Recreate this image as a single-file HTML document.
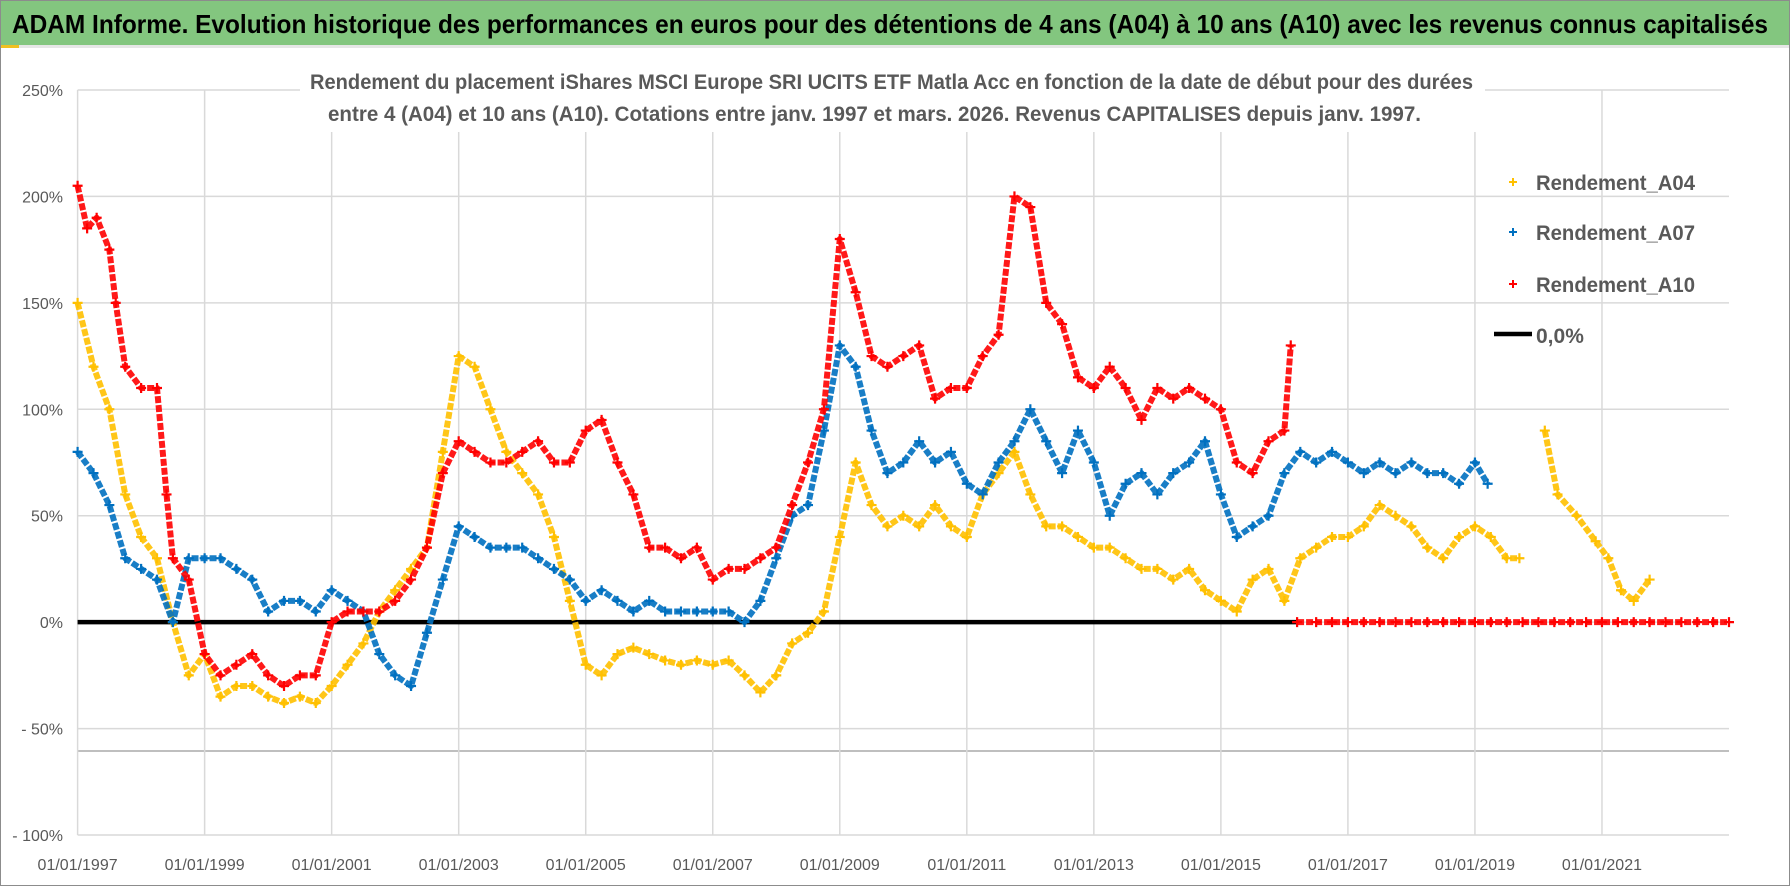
<!DOCTYPE html>
<html><head><meta charset="utf-8"><style>
html,body{margin:0;padding:0;background:#fff;}
svg{display:block;font-family:"Liberation Sans",sans-serif;}
</style></head><body>
<svg id="chart" width="1790" height="886" viewBox="0 0 1790 886">
<rect x="0.5" y="0.5" width="1789" height="885" fill="#fff" stroke="#8c8c8c"/>
<rect x="1" y="1" width="1788" height="44" fill="#83c67f"/>
<rect x="1" y="45" width="1788" height="3" fill="#e6e6e6"/>
<rect x="1" y="45" width="18" height="3" fill="#f0c020"/>
<text x="12" y="33" font-size="26" font-weight="bold" fill="#000" textLength="1756" lengthAdjust="spacingAndGlyphs">ADAM Informe. Evolution historique des performances en euros pour des détentions de 4 ans (A04) à 10 ans (A10) avec les revenus connus capitalisés</text>
<g id="grid"></g>
<g id="axes"></g>
<rect x="300" y="62" width="1185" height="70" fill="#fff"/>
<text x="310" y="89" font-size="21" font-weight="bold" fill="#595959" textLength="1163" lengthAdjust="spacingAndGlyphs">Rendement du placement iShares MSCI Europe SRI UCITS ETF Matla Acc en fonction de la date de début pour des durées</text>
<text x="328" y="121" font-size="21" font-weight="bold" fill="#595959" textLength="1093" lengthAdjust="spacingAndGlyphs">entre 4 (A04) et 10 ans (A10). Cotations entre janv. 1997 et mars. 2026. Revenus CAPITALISES depuis janv. 1997.</text>
<g id="series"></g>
<g id="legend"></g>
</svg>
<script>
const yTicks = [250, 200, 150, 100, 50, 0, -50, -100];
const yTickLabels = ["250%", "200%", "150%", "100%", "50%", "0%", "- 50%", "- 100%"];
const xTickYears = [1997, 1999, 2001, 2003, 2005, 2007, 2009, 2011, 2013, 2015, 2017, 2019, 2021];
const xTickLabels = ["01/01/1997","01/01/1999","01/01/2001","01/01/2003","01/01/2005","01/01/2007","01/01/2009","01/01/2011","01/01/2013","01/01/2015","01/01/2017","01/01/2019","01/01/2021"];

const a04Years = [1997,1997.25,1997.5,1997.75,1998,1998.25,1998.5,1998.75,1999,1999.25,1999.5,1999.75,2000,2000.25,2000.5,2000.75,2001,2001.25,2001.5,2001.75,2002,2002.25,2002.5,2002.75,2003,2003.25,2003.5,2003.75,2004,2004.25,2004.5,2004.75,2005,2005.25,2005.5,2005.75,2006,2006.25,2006.5,2006.75,2007,2007.25,2007.5,2007.75,2008,2008.25,2008.5,2008.75,2009,2009.25,2009.5,2009.75,2010,2010.25,2010.5,2010.75,2011,2011.25,2011.5,2011.75,2012,2012.25,2012.5,2012.75,2013,2013.25,2013.5,2013.75,2014,2014.25,2014.5,2014.75,2015,2015.25,2015.5,2015.75,2016,2016.25,2016.5,2016.75,2017,2017.25,2017.5,2017.75,2018,2018.25,2018.5,2018.75,2019,2019.25,2019.5,2019.7,2020.1,2020.3,2020.6,2020.9,2021.1,2021.3,2021.5,2021.75];
const a04Values = [150,120,100,60,40,30,0,-25,-15,-35,-30,-30,-35,-38,-35,-38,-30,-20,-10,5,15,25,35,80,125,120,100,80,70,60,40,10,-20,-25,-15,-12,-15,-18,-20,-18,-20,-18,-25,-33,-25,-10,-5,5,40,75,55,45,50,45,55,45,40,60,70,80,60,45,45,40,35,35,30,25,25,20,25,15,10,5,20,25,10,30,35,40,40,45,55,50,45,35,30,40,45,40,30,30,90,60,50,38,30,15,10,20];
const a04Gaps = [2019.7];

const a07Years = [1997,1997.25,1997.5,1997.75,1998,1998.25,1998.5,1998.75,1999,1999.25,1999.5,1999.75,2000,2000.25,2000.5,2000.75,2001,2001.25,2001.5,2001.75,2002,2002.25,2002.5,2002.75,2003,2003.25,2003.5,2003.75,2004,2004.25,2004.5,2004.75,2005,2005.25,2005.5,2005.75,2006,2006.25,2006.5,2006.75,2007,2007.25,2007.5,2007.75,2008,2008.25,2008.5,2008.75,2009,2009.25,2009.5,2009.75,2010,2010.25,2010.5,2010.75,2011,2011.25,2011.5,2011.75,2012,2012.25,2012.5,2012.75,2013,2013.25,2013.5,2013.75,2014,2014.25,2014.5,2014.75,2015,2015.25,2015.5,2015.75,2016,2016.25,2016.5,2016.75,2017,2017.25,2017.5,2017.75,2018,2018.25,2018.5,2018.75,2019,2019.2];
const a07Values = [80,70,55,30,25,20,0,30,30,30,25,20,5,10,10,5,15,10,5,-15,-25,-30,-5,20,45,40,35,35,35,30,25,20,10,15,10,5,10,5,5,5,5,5,0,10,30,50,55,90,130,120,90,70,75,85,75,80,65,60,75,85,100,85,70,90,75,50,65,70,60,70,75,85,60,40,45,50,70,80,75,80,75,70,75,70,75,70,70,65,75,65];
const a07Gaps = [];

const a10Years = [1997,1997.15,1997.3,1997.5,1997.6,1997.75,1998,1998.25,1998.4,1998.5,1998.75,1999,1999.25,1999.5,1999.75,2000,2000.25,2000.5,2000.75,2001,2001.25,2001.5,2001.75,2002,2002.25,2002.5,2002.75,2003,2003.25,2003.5,2003.75,2004,2004.25,2004.5,2004.75,2005,2005.25,2005.5,2005.75,2006,2006.25,2006.5,2006.75,2007,2007.25,2007.5,2007.75,2008,2008.25,2008.5,2008.75,2009,2009.25,2009.5,2009.75,2010,2010.25,2010.5,2010.75,2011,2011.25,2011.5,2011.75,2012,2012.25,2012.5,2012.75,2013,2013.25,2013.5,2013.75,2014,2014.25,2014.5,2014.75,2015,2015.25,2015.5,2015.75,2016,2016.1];
const a10Values = [205,185,190,175,150,120,110,110,60,30,20,-15,-25,-20,-15,-25,-30,-25,-25,0,5,5,5,10,20,35,70,85,80,75,75,80,85,75,75,90,95,75,60,35,35,30,35,20,25,25,30,35,55,75,100,180,155,125,120,125,130,105,110,110,125,135,200,195,150,140,115,110,120,110,95,110,105,110,105,100,75,70,85,90,130];
const a10Gaps = [];
const zeroYears = [2016.2,2016.5,2016.75,2017,2017.25,2017.5,2017.75,2018,2018.25,2018.5,2018.75,2019,2019.25,2019.5,2019.75,2020,2020.25,2020.5,2020.75,2021,2021.25,2021.5,2021.75,2022,2022.25,2022.5,2022.75,2023];
const zeroValues = [0,0,0,0,0,0,0,0,0,0,0,0,0,0,0,0,0,0,0,0,0,0,0,0,0,0,0,0];
const refLineStart = 1997, refLineEnd = 2016.2, refLineValue = 0;

const X0 = 77.6, X1 = 1729, Y0 = 90, Y1 = 835;
const xMin = 1997, xMax = 2023, yMin = -100, yMax = 250;
function xs(v){ return X0 + (v - xMin) / (xMax - xMin) * (X1 - X0); }
function ys(v){ return Y1 - (v - yMin) / (yMax - yMin) * (Y1 - Y0); }

const NS = "http://www.w3.org/2000/svg";
function mk(tag, attrs, parent){ const e = document.createElementNS(NS, tag); for (const k in attrs) e.setAttribute(k, attrs[k]); parent.appendChild(e); return e; }

const grid = document.getElementById('grid');
yTicks.forEach((t,i) => {
  const l = mk('line', {x1:X0, x2:X1, y1:ys(t), y2:ys(t), stroke:'#d9d9d9', 'stroke-width':1.5}, grid);
  
  
  const tx = mk('text', {x:63, y:ys(t)+6, 'text-anchor':'end', 'font-size':16, fill:'#595959'}, grid);
  tx.textContent = yTickLabels[i];
  
  
});
const bl = mk('line', {x1:X0, x2:X1, y1:751, y2:751, stroke:'#bfbfbf', 'stroke-width':2}, grid);


xTickYears.forEach((t,i) => {
  const l = mk('line', {x1:xs(t), x2:xs(t), y1:Y0, y2:Y1, stroke:'#d9d9d9', 'stroke-width':1.5}, grid);
  
  
  const tx = mk('text', {x:xs(t), y:870, 'text-anchor':'middle', 'font-size':16, fill:'#595959'}, grid);
  tx.textContent = xTickLabels[i];
  
  
});

const layer = document.getElementById('series');
function crossPath(x, y, s){ return `M${x-s},${y}H${x+s}M${x},${y-s}V${y+s}`; }
function drawSeries(years, values, gaps, color, name){
  const g = mk('g', {}, layer);
  
  
  let segs = [[]];
  years.forEach((yr,i) => {
    if (values[i] === null) return;
    segs[segs.length-1].push([xs(yr), ys(values[i])]);
    if (gaps.includes(yr)) segs.push([]);
  });
  segs.forEach(s => {
    if (s.length < 2) return;
    const pl = mk('polyline', {points: s.map(p => p.join(',')).join(' '), fill:'none', stroke:color, 'stroke-width':6, 'stroke-linejoin':'round', 'stroke-dasharray':'7 2', opacity:0.9}, g);
    
    
  });
  let d = '';
  years.forEach((yr,i) => { if (values[i] !== null) d += crossPath(xs(yr), ys(values[i]), 5); });
  const p = mk('path', {d, stroke:color, 'stroke-width':2.2, fill:'none'}, g);
  
  
}
const ref = mk('line', {x1:xs(refLineStart), x2:xs(refLineEnd), y1:ys(refLineValue), y2:ys(refLineValue), stroke:'#000', 'stroke-width':4.5}, layer);


drawSeries(a04Years, a04Values, a04Gaps, '#ffc000', 'series-a04');
drawSeries(a07Years, a07Values, a07Gaps, '#0070c0', 'series-a07');
drawSeries(a10Years, a10Values, a10Gaps, '#ff0000', 'series-a10');
drawSeries(zeroYears, zeroValues, [], '#ff0000', 'series-a10-zero');

const leg = document.getElementById('legend');
const legItems = [['Rendement_A04','#ffc000',182],['Rendement_A07','#0070c0',232],['Rendement_A10','#ff0000',284]];
legItems.forEach(it => {
  const p = mk('path', {d: crossPath(1513, it[2], 4), stroke: it[1], 'stroke-width':2}, leg);
  
  
  const t = mk('text', {x:1536, y:it[2]+8, 'font-size':21, 'font-weight':'bold', fill:'#595959', textLength:159, lengthAdjust:'spacingAndGlyphs'}, leg);
  t.textContent = it[0];
  
  
});
const ll = mk('line', {x1:1494, x2:1532, y1:334, y2:334, stroke:'#000', 'stroke-width':4.5}, leg);


const lt = mk('text', {x:1536, y:343, 'font-size':21, 'font-weight':'bold', fill:'#595959'}, leg);
lt.textContent = '0,0%';


</script>
</body></html>
